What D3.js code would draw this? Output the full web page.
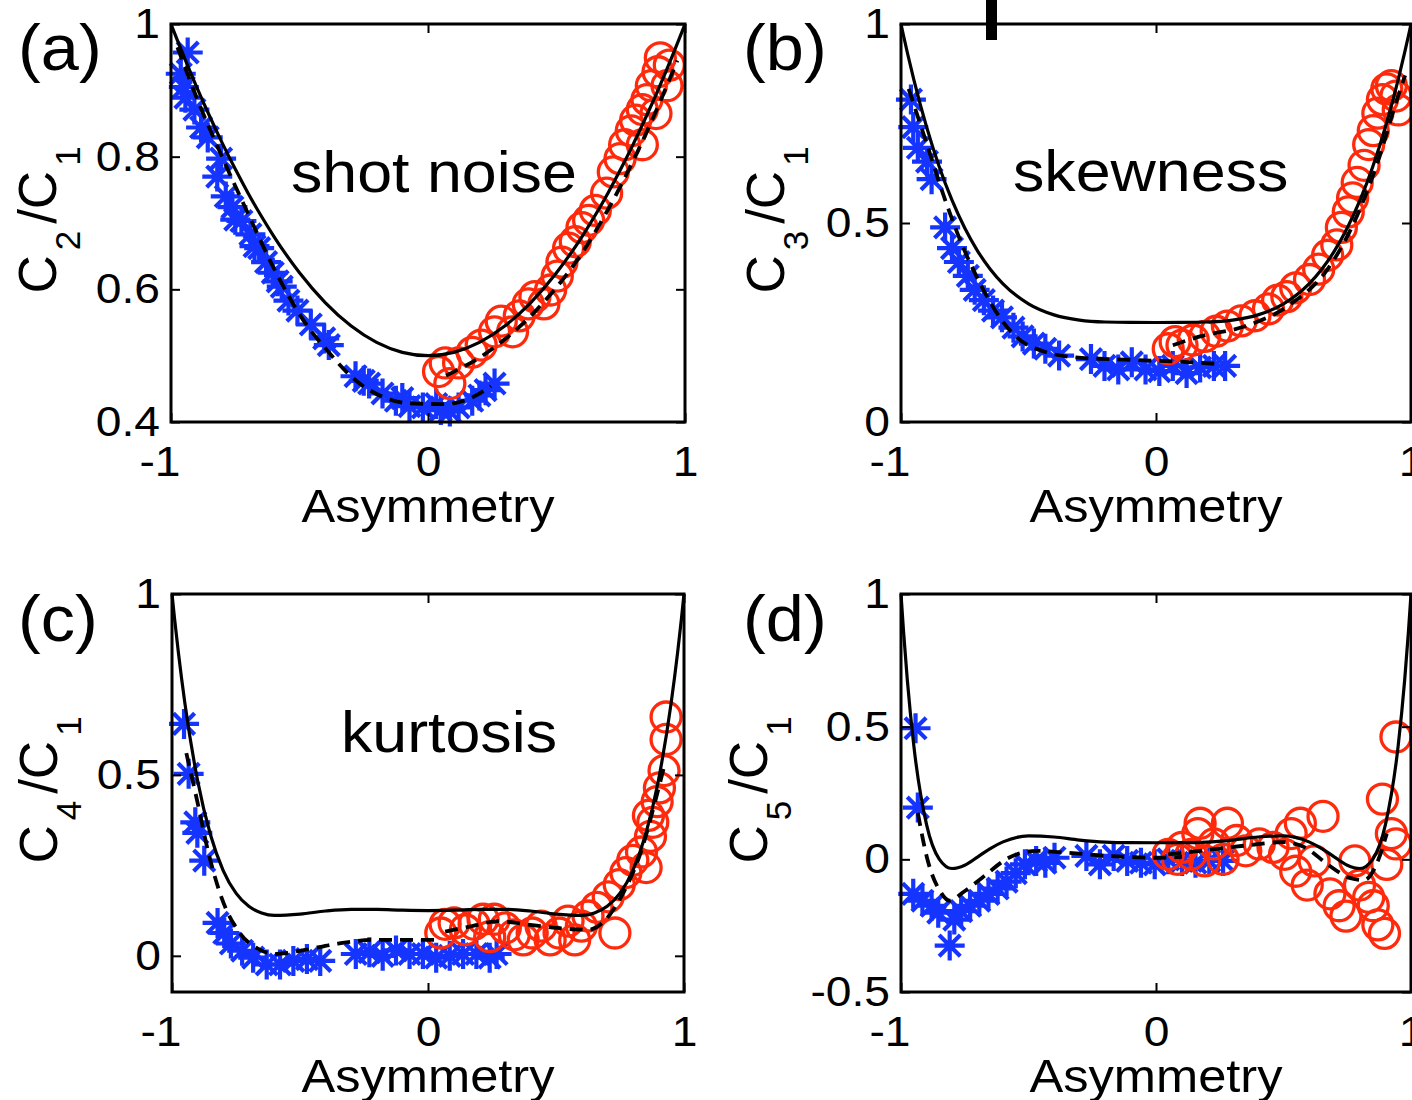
<!DOCTYPE html>
<html>
<head>
<meta charset="utf-8">
<script src="https://cdn.jsdelivr.net/npm/d3@7"></script>
<style>
  body { margin: 0; background: #fff; }
  svg { display: block; }
</style>
</head>
<body>
<svg id="fig" width="1412" height="1100"></svg>
<script>
// ---- shared axis values ----
const xTicks = [-1, 0, 1];
const xTickLabels = ["-1", "0", "1"];

// asymmetry grid for the model curves
const asym = [-1, -0.99, -0.975, -0.95, -0.9, -0.85, -0.8, -0.75, -0.7, -0.65, -0.6, -0.5, -0.4, -0.3, -0.2, -0.1,
  0, 0.1, 0.2, 0.3, 0.4, 0.5, 0.6, 0.65, 0.7, 0.75, 0.8, 0.85, 0.9, 0.95, 0.975, 0.99, 1];

// ---- (a) shot noise C2/C1 ----
const yTicksA = [0.4, 0.6, 0.8, 1];
const yTickLabelsA = ["0.4", "0.6", "0.8", "1"];
const solidA = [1, 0.99, 0.9753, 0.9513, 0.905, 0.8613, 0.82, 0.7813, 0.745, 0.7113, 0.68, 0.625, 0.58, 0.545, 0.52, 0.505,
  0.5, 0.505, 0.52, 0.545, 0.58, 0.625, 0.68, 0.7113, 0.745, 0.7813, 0.82, 0.8613, 0.905, 0.9513, 0.9753, 0.99, 1];
const dashBlueA = [[-0.975, 0.965], [-0.892, 0.881], [-0.805, 0.803], [-0.7, 0.714], [-0.595, 0.628], [-0.491, 0.557],
  [-0.386, 0.505], [-0.282, 0.463], [-0.177, 0.438], [-0.072, 0.428], [0.067, 0.427], [0.172, 0.437], [0.245, 0.454]];
const dashRedA = [[0.07, 0.47], [0.2, 0.497], [0.3, 0.525], [0.4, 0.56], [0.5, 0.603], [0.6, 0.655], [0.7, 0.72],
  [0.8, 0.795], [0.9, 0.88], [0.97, 0.945]];
const blueA = [[-0.962, 0.925], [-0.95, 0.905], [-0.944, 0.889], [-0.935, 0.957], [-0.909, 0.871], [-0.883, 0.844],
  [-0.857, 0.829], [-0.805, 0.797], [-0.82, 0.77], [-0.787, 0.74], [-0.761, 0.724], [-0.75, 0.705], [-0.726, 0.703],
  [-0.691, 0.683], [-0.675, 0.665], [-0.657, 0.662], [-0.63, 0.641], [-0.604, 0.625], [-0.585, 0.612], [-0.569, 0.604],
  [-0.543, 0.583], [-0.508, 0.568], [-0.456, 0.547], [-0.404, 0.526], [-0.386, 0.516], [-0.282, 0.469], [-0.25, 0.462],
  [-0.229, 0.458], [-0.177, 0.443], [-0.125, 0.432], [-0.1, 0.436], [-0.072, 0.424], [-0.02, 0.422], [0.032, 0.427],
  [0.05, 0.418], [0.085, 0.416], [0.119, 0.422], [0.172, 0.432], [0.2, 0.44], [0.224, 0.448], [0.259, 0.458]];
const redA = [[0.041, 0.476], [0.085, 0.458], [0.067, 0.489], [0.119, 0.489], [0.172, 0.505], [0.207, 0.516],
  [0.259, 0.536], [0.285, 0.552], [0.329, 0.536], [0.355, 0.56], [0.39, 0.578], [0.416, 0.589], [0.451, 0.578],
  [0.477, 0.599], [0.503, 0.62], [0.521, 0.641], [0.547, 0.662], [0.573, 0.672], [0.599, 0.693], [0.625, 0.704],
  [0.651, 0.719], [0.695, 0.745], [0.721, 0.777], [0.747, 0.797], [0.765, 0.818], [0.791, 0.839], [0.808, 0.855],
  [0.834, 0.871], [0.852, 0.886], [0.869, 0.907], [0.895, 0.928], [0.904, 0.949], [0.939, 0.938], [0.93, 0.907],
  [0.887, 0.865], [0.834, 0.818]];

// ---- (b) skewness C3/C1 ----
const yTicksB = [0, 0.5, 1];
const yTickLabelsB = ["0", "0.5", "1"];
const solidB = [1, 0.9705, 0.9278, 0.8609, 0.7421, 0.6415, 0.5572, 0.4873, 0.4301, 0.3839, 0.3472, 0.2969, 0.2692, 0.2561, 0.2512, 0.2501,
  0.25, 0.2501, 0.2512, 0.2561, 0.2692, 0.2969, 0.3472, 0.3839, 0.4301, 0.4873, 0.5572, 0.6415, 0.7421, 0.8609, 0.9278, 0.9705, 1];
const dashBlueB = [[-0.97, 0.837], [-0.898, 0.697], [-0.827, 0.558], [-0.755, 0.437], [-0.684, 0.341], [-0.613, 0.263],
  [-0.541, 0.21], [-0.434, 0.176], [-0.327, 0.163], [-0.184, 0.158], [-0.005, 0.154], [0.138, 0.15], [0.26, 0.145]];
const dashRedB = [[0.066, 0.193], [0.173, 0.215], [0.352, 0.241], [0.53, 0.297], [0.673, 0.384], [0.78, 0.506],
  [0.87, 0.654], [0.941, 0.802], [0.977, 0.871]];
const blueB = [[-0.961, 0.81], [-0.952, 0.741], [-0.934, 0.689], [-0.898, 0.654], [-0.88, 0.61], [-0.827, 0.489],
  [-0.8, 0.437], [-0.773, 0.402], [-0.738, 0.367], [-0.711, 0.332], [-0.675, 0.306], [-0.639, 0.28], [-0.604, 0.263],
  [-0.559, 0.237], [-0.523, 0.215], [-0.479, 0.197], [-0.434, 0.184], [-0.38, 0.167], [-0.255, 0.158], [-0.202, 0.141],
  [-0.148, 0.132], [-0.095, 0.15], [-0.041, 0.132], [0.013, 0.128], [0.066, 0.141], [0.12, 0.123], [0.173, 0.137],
  [0.227, 0.141], [0.271, 0.141]];
const redB = [[0.048, 0.184], [0.075, 0.202], [0.102, 0.193], [0.146, 0.206], [0.191, 0.215], [0.236, 0.228],
  [0.28, 0.241], [0.334, 0.254], [0.388, 0.267], [0.441, 0.284], [0.477, 0.306], [0.513, 0.315], [0.548, 0.337],
  [0.602, 0.358], [0.638, 0.384], [0.673, 0.419], [0.709, 0.445], [0.727, 0.489], [0.754, 0.528], [0.771, 0.563],
  [0.789, 0.602], [0.816, 0.645], [0.834, 0.697], [0.852, 0.732], [0.87, 0.776], [0.888, 0.81], [0.905, 0.837],
  [0.923, 0.845], [0.941, 0.819], [0.95, 0.784]];

// ---- (c) kurtosis C4/C1 ----
const yTicksC = [0, 0.5, 1];
const yTickLabelsC = ["0", "0.5", "1"];
const solidC = [1, 0.9321, 0.8379, 0.6998, 0.4846, 0.3352, 0.2357, 0.1731, 0.1367, 0.1184, 0.1117, 0.1152, 0.1239, 0.1285, 0.1283, 0.1261,
  0.125, 0.1261, 0.1283, 0.1285, 0.1239, 0.1152, 0.1117, 0.1184, 0.1367, 0.1731, 0.2357, 0.3352, 0.4846, 0.6998, 0.8379, 0.9321, 1];
const dashBlueC = [[-0.944, 0.56], [-0.901, 0.426], [-0.857, 0.283], [-0.805, 0.158], [-0.735, 0.063], [-0.665, 0.02],
  [-0.595, 0.005], [-0.491, 0.015], [-0.351, 0.034], [-0.212, 0.044], [-0.072, 0.044], [0.032, 0.044]];
const dashRedC = [[0.067, 0.067], [0.172, 0.082], [0.276, 0.096], [0.381, 0.087], [0.503, 0.077], [0.625, 0.072],
  [0.695, 0.101], [0.765, 0.177], [0.834, 0.292], [0.887, 0.426], [0.922, 0.522]];
const blueC = [[-0.953, 0.641], [-0.935, 0.503], [-0.909, 0.369], [-0.901, 0.34], [-0.874, 0.263], [-0.822, 0.091],
  [-0.796, 0.063], [-0.77, 0.034], [-0.726, 0.014], [-0.683, -0.005], [-0.63, -0.024], [-0.578, -0.024], [-0.526, -0.014],
  [-0.473, -0.009], [-0.421, -0.014], [-0.282, 0.005], [-0.229, 0.01], [-0.177, 0.0], [-0.125, 0.015], [-0.072, 0.005],
  [-0.02, 0.005], [0.032, -0.005], [0.085, 0.0], [0.137, 0.005], [0.189, 0.005], [0.241, -0.005], [0.268, 0.005]];
const redC = [[0.05, 0.063], [0.067, 0.087], [0.102, 0.091], [0.146, 0.072], [0.18, 0.087], [0.215, 0.101],
  [0.241, 0.053], [0.259, 0.101], [0.302, 0.077], [0.337, 0.058], [0.372, 0.044], [0.407, 0.063], [0.442, 0.082],
  [0.477, 0.044], [0.512, 0.063], [0.547, 0.096], [0.573, 0.044], [0.599, 0.082], [0.625, 0.11], [0.66, 0.134],
  [0.704, 0.163], [0.73, 0.063], [0.747, 0.197], [0.773, 0.23], [0.8, 0.264], [0.834, 0.287], [0.852, 0.244],
  [0.869, 0.33], [0.878, 0.369], [0.861, 0.388], [0.895, 0.426], [0.904, 0.464], [0.922, 0.512], [0.93, 0.598],
  [0.93, 0.66]];

// ---- (d) C5/C1 ----
const yTicksD = [-0.5, 0, 0.5, 1];
const yTickLabelsD = ["-0.5", "0", "0.5", "1"];
const solidD = [1, 0.858, 0.6732, 0.4302, 0.1318, 0.0009, -0.0346, -0.0221, 0.0086, 0.0407, 0.0658, 0.0881, 0.0841, 0.0727, 0.065, 0.0627,
  0.0625, 0.0627, 0.065, 0.0727, 0.0841, 0.0881, 0.0658, 0.0407, 0.0086, -0.0221, -0.0346, 0.0009, 0.1318, 0.4302, 0.6732, 0.858, 1];
const dashBlueD = [[-0.934, 0.175], [-0.898, 0.006], [-0.845, -0.123], [-0.809, -0.156], [-0.755, -0.123], [-0.684, -0.071],
  [-0.577, 0.006], [-0.47, 0.032], [-0.363, 0.026], [-0.184, 0.013], [-0.005, 0.006], [0.102, 0.009]];
const dashRedD = [[0.048, 0.019], [0.173, 0.032], [0.352, 0.052], [0.495, 0.065], [0.584, 0.045], [0.673, -0.019],
  [0.763, -0.071], [0.816, -0.078], [0.87, -0.006], [0.905, 0.097]];
const blueD = [[-0.943, 0.494], [-0.934, 0.195], [-0.952, -0.13], [-0.916, -0.156], [-0.88, -0.175], [-0.854, -0.201],
  [-0.809, -0.325], [-0.791, -0.227], [-0.764, -0.195], [-0.729, -0.175], [-0.693, -0.156], [-0.657, -0.13],
  [-0.621, -0.11], [-0.586, -0.084], [-0.55, -0.052], [-0.514, -0.019], [-0.47, -0.006], [-0.434, -0.013],
  [-0.398, 0.006], [-0.273, 0.013], [-0.22, -0.019], [-0.166, 0.013], [-0.113, -0.006], [-0.059, -0.013],
  [-0.005, -0.019], [0.048, 0.0], [0.102, -0.006], [0.155, -0.013], [0.209, -0.006], [0.263, -0.006]];
const redD = [[0.048, 0.019], [0.084, 0.0], [0.102, 0.045], [0.138, 0.019], [0.164, 0.097], [0.173, 0.136],
  [0.191, -0.006], [0.227, 0.058], [0.263, 0.0], [0.28, 0.136], [0.316, 0.071], [0.352, 0.032], [0.405, 0.058],
  [0.459, 0.045], [0.504, 0.019], [0.53, 0.097], [0.548, -0.045], [0.566, 0.136], [0.593, -0.097], [0.62, -0.006],
  [0.655, 0.162], [0.682, -0.13], [0.718, -0.175], [0.745, -0.214], [0.78, -0.006], [0.798, -0.097], [0.834, -0.143],
  [0.852, -0.175], [0.87, -0.247], [0.896, -0.279], [0.888, 0.227], [0.905, -0.019], [0.923, 0.097], [0.941, 0.058],
  [0.941, 0.461]];

// ---- layout of the four panels ----
const panels = [
  { tag: "(a)", order: "2", note: "shot noise", yDomain: [0.4, 1], yTicks: yTicksA, yLabels: yTickLabelsA,
    solid: solidA, dashBlue: dashBlueA, dashRed: dashRedA, blue: blueA, red: redA,
    box: { x0: 171, x1: 685, y0: 24, y1: 422 }, noteAt: [291, 192], tagAt: [18, 70], ylabelX: 56 },
  { tag: "(b)", order: "3", note: "skewness", yDomain: [0, 1], yTicks: yTicksB, yLabels: yTickLabelsB,
    solid: solidB, dashBlue: dashBlueB, dashRed: dashRedB, blue: blueB, red: redB,
    box: { x0: 901, x1: 1411, y0: 24, y1: 422 }, noteAt: [1013, 191], tagAt: [743, 70], ylabelX: 784 },
  { tag: "(c)", order: "4", note: "kurtosis", yDomain: [-0.1, 1], yTicks: yTicksC, yLabels: yTickLabelsC,
    solid: solidC, dashBlue: dashBlueC, dashRed: dashRedC, blue: blueC, red: redC,
    box: { x0: 172, x1: 684, y0: 594, y1: 992 }, noteAt: [341, 752], tagAt: [18, 641], ylabelX: 57 },
  { tag: "(d)", order: "5", note: "", yDomain: [-0.5, 1], yTicks: yTicksD, yLabels: yTickLabelsD,
    solid: solidD, dashBlue: dashBlueD, dashRed: dashRedD, blue: blueD, red: redD,
    box: { x0: 901, x1: 1411, y0: 594, y1: 992 }, noteAt: [0, 0], tagAt: [743, 641], ylabelX: 767 }
];

const FONT = "'Liberation Sans', Arial, Helvetica, sans-serif";
const SX = 1.1;          // slight horizontal stretch of the lettering
const BLUE = "#1535ff";
const RED = "#ff2a0c";

const svg = d3.select("#fig");
svg.append("rect").attr("width", 1412).attr("height", 1100).attr("fill", "#fff");

// fragment of a heading running off the top edge
svg.append("rect").attr("x", 986).attr("y", 0).attr("width", 11).attr("height", 40).attr("fill", "#000");

function stretchedText(parent, x, y, str, size, anchor, sx) {
  return parent.append("text")
    .attr("transform", `translate(${x},${y}) scale(${sx},1)`)
    .attr("font-family", FONT).attr("font-size", size)
    .attr("text-anchor", anchor).attr("fill", "#000")
    .text(str);
}

// eight-armed asterisk marker
function asteriskPath(s) {
  const d = s * 0.7071;
  return `M${-s},0L${s},0M0,${-s}L0,${s}M${-d},${-d}L${d},${d}M${-d},${d}L${d},${-d}`;
}

panels.forEach(p => {
  const b = p.box;
  const x = d3.scaleLinear().domain([-1, 1]).range([b.x0, b.x1]);
  const y = d3.scaleLinear().domain(p.yDomain).range([b.y1, b.y0]);
  const g = svg.append("g");

  // data markers
  g.append("g").selectAll("path").data(p.blue).join("path")
    .attr("d", asteriskPath(15))
    .attr("transform", d => `translate(${x(d[0])},${y(d[1])})`)
    .attr("fill", "none").attr("stroke", BLUE).attr("stroke-width", 4.2);
  g.append("g").selectAll("circle").data(p.red).join("circle")
    .attr("cx", d => x(d[0])).attr("cy", d => y(d[1])).attr("r", 15)
    .attr("fill", "none").attr("stroke", RED).attr("stroke-width", 3.3);

  // model curves
  const line = d3.line().x(d => x(d[0])).y(d => y(d[1])).curve(d3.curveMonotoneX);
  g.append("path").attr("d", line(asym.map((a, i) => [a, p.solid[i]])))
    .attr("fill", "none").attr("stroke", "#000").attr("stroke-width", 3.2);
  [p.dashBlue, p.dashRed].forEach(seg => {
    g.append("path").attr("d", line(seg))
      .attr("fill", "none").attr("stroke", "#000").attr("stroke-width", 3.8)
      .attr("stroke-dasharray", "13,8");
  });

  // frame
  g.append("rect").attr("x", b.x0).attr("y", b.y0)
    .attr("width", b.x1 - b.x0).attr("height", b.y1 - b.y0)
    .attr("fill", "none").attr("stroke", "#000").attr("stroke-width", 3);

  // axes with inward ticks
  const styleAxis = sel => {
    sel.select(".domain").remove();
    sel.selectAll(".tick line").attr("stroke", "#000").attr("stroke-width", 2);
    sel.attr("font-family", FONT).attr("font-size", 42);
  };
  const bottom = g.append("g").attr("transform", `translate(0,${b.y1})`)
    .call(d3.axisBottom(x).tickValues(xTicks).tickFormat((d, i) => xTickLabels[i])
      .tickSizeInner(-9).tickSizeOuter(0).tickPadding(24))
    .call(styleAxis);
  bottom.selectAll(".tick text").attr("fill", "#000")
    .attr("transform", `scale(${SX},1)`)
    .attr("dx", d => d < 0 ? "-0.25em" : 0);
  g.append("g").attr("transform", `translate(0,${b.y0})`)
    .call(d3.axisTop(x).tickValues(xTicks).tickFormat("").tickSizeInner(-9).tickSizeOuter(0))
    .call(styleAxis);
  const left = g.append("g").attr("transform", `translate(${b.x0},0)`)
    .call(d3.axisLeft(y).tickValues(p.yTicks).tickFormat((d, i) => p.yLabels[i])
      .tickSizeInner(-9).tickSizeOuter(0).tickPadding(10))
    .call(styleAxis);
  left.selectAll(".tick text").attr("fill", "#000").attr("transform", `scale(${SX},1)`);
  g.append("g").attr("transform", `translate(${b.x1},0)`)
    .call(d3.axisRight(y).tickValues(p.yTicks).tickFormat("").tickSizeInner(-9).tickSizeOuter(0))
    .call(styleAxis);

  // axis titles
  stretchedText(g, (b.x0 + b.x1) / 2, b.y1 + 100, "Asymmetry", 46, "middle", SX);
  const yl = g.append("text")
    .attr("transform", `translate(${p.ylabelX},${(b.y0 + b.y1) / 2 - 3}) rotate(-90)`)
    .attr("font-family", FONT).attr("font-size", 53).attr("text-anchor", "middle").attr("fill", "#000");
  yl.append("tspan").text("C");
  yl.append("tspan").attr("font-size", 35).attr("dy", 24).attr("dx", 5).text(p.order);
  yl.append("tspan").attr("dy", -24).attr("dx", 7).text("/C");
  yl.append("tspan").attr("font-size", 35).attr("dy", 24).attr("dx", 5).text("1");

  // panel tag and annotation
  stretchedText(g, p.tagAt[0], p.tagAt[1], p.tag, 64, "start", 1.07);
  if (p.note) stretchedText(g, p.noteAt[0], p.noteAt[1], p.note, 57, "start", SX);
});
</script>
</body>
</html>
